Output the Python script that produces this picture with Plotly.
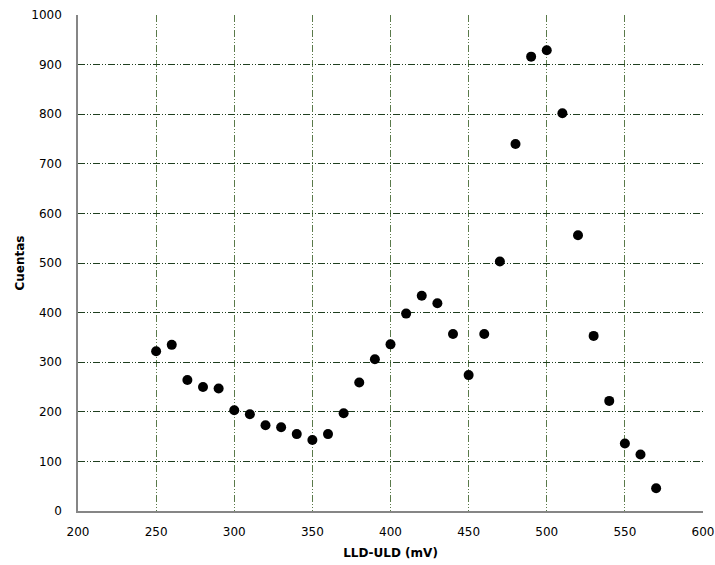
import plotly.graph_objects as go

lld_uld = [250, 260, 270, 280, 290, 300, 310, 320, 330, 340, 350, 360, 370, 380, 390,
           400, 410, 420, 430, 440, 450, 460, 470, 480, 490, 500, 510, 520, 530, 540,
           550, 560, 570]
cuentas = [322, 335, 264, 250, 247, 203, 195, 173, 169, 155, 143, 155, 197, 259, 306,
           336, 398, 434, 419, 357, 274, 357, 503, 740, 916, 929, 802, 556, 353, 222,
           136, 114, 46]

x_ticks = [200, 250, 300, 350, 400, 450, 500, 550, 600]
y_ticks = [0, 100, 200, 300, 400, 500, 600, 700, 800, 900, 1000]

font = "DejaVu Sans"

fig = go.Figure()
fig.add_trace(go.Scatter(
    x=lld_uld, y=cuentas, mode="markers",
    marker=dict(color="black", size=10, line=dict(width=0)),
    showlegend=False,
))

fig.update_layout(
    width=715, height=565,
    margin=dict(l=78, r=12, t=15, b=54, autoexpand=False),
    paper_bgcolor="white", plot_bgcolor="white",
    font=dict(family=font, size=12, color="black"),
)
fig.update_xaxes(
    range=[200, 600], tickvals=x_ticks, ticktext=[str(v) for v in x_ticks],
    showgrid=True, gridcolor="#5a7a4a", griddash="7px,2px,1px,2px,1px,2px", gridwidth=1,
    showline=True, linecolor="#868686", linewidth=1.5,
    zeroline=False, ticks="outside", ticklen=9, tickcolor="rgba(0,0,0,0)",
    automargin=True,
    title=dict(text="<b>LLD-ULD (mV)</b>", font=dict(family=font, size=12), standoff=10),
    tickfont=dict(family=font, size=12),
)
fig.update_yaxes(
    range=[0, 1000], tickvals=y_ticks, ticktext=[str(v) for v in y_ticks],
    showgrid=True, gridcolor="#1f3f1f", griddash="7px,2px,1px,2px,1px,2px", gridwidth=1,
    showline=True, linecolor="#868686", linewidth=1.5,
    zeroline=False, ticks="outside", ticklen=12, tickcolor="rgba(0,0,0,0)",
    automargin=True,
    title=dict(text="<b>Cuentas</b>", font=dict(family=font, size=12), standoff=4),
    tickfont=dict(family=font, size=12),
)

fig.write_html("out.html")
